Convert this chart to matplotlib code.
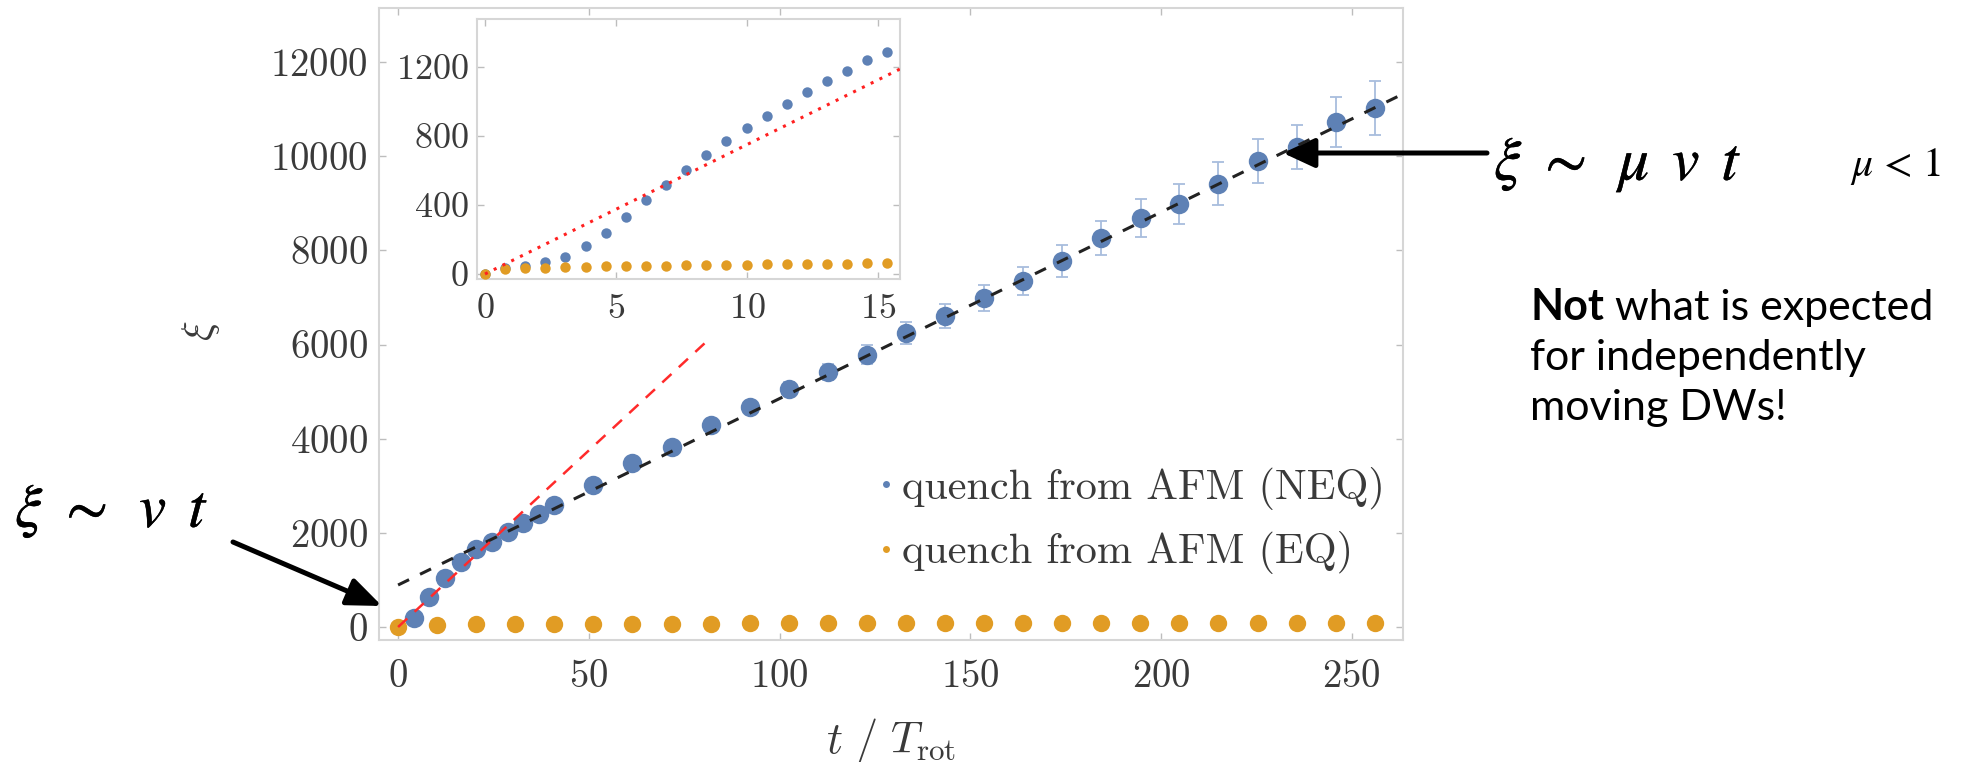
import matplotlib.pyplot as plt
import matplotlib.patheffects as pe
from matplotlib.lines import Line2D

plt.rcParams['font.family'] = 'cmr10'
plt.rcParams['mathtext.fontset'] = 'cm'
plt.rcParams['axes.formatter.use_mathtext'] = True

W, H = 1980, 762

# main panel: quench from AFM (NEQ), t in units of T_rot
t_neq = [4.1, 8.2, 12.3, 16.4, 20.5, 24.6, 28.7, 32.8, 36.9, 41.0,
         51.2, 61.4, 71.7, 81.9, 92.2, 102.4, 112.6, 122.9, 133.1, 143.4,
         153.6, 163.8, 174.1, 184.3, 194.6, 204.8, 215.0, 225.3, 235.5, 245.8, 256.0]
xi_neq = [200, 640, 1050, 1390, 1660, 1810, 2020, 2210, 2400, 2590,
          3010, 3480, 3830, 4290, 4670, 5060, 5420, 5780, 6250, 6606,
          6988, 7349, 7774, 8260, 8690, 8985, 9415, 9898, 10195, 10726, 11024]
err_neq = [20, 30, 40, 50, 50, 60, 60, 70, 70, 80,
           90, 100, 110, 120, 130, 150, 170, 200, 230, 250,
           280, 300, 330, 360, 400, 430, 460, 470, 465, 540, 570]

# main panel: quench from AFM (EQ)
t_eq = [0, 10.24, 20.48, 30.72, 40.96, 51.2, 61.44, 71.68, 81.92, 92.16, 102.4, 112.64, 122.88,
        133.12, 143.36, 153.6, 163.84, 174.08, 184.32, 194.56, 204.8, 215.04, 225.28, 235.52,
        245.76, 256.0]
xi_eq = [0, 50, 58, 62, 65, 68, 70, 72, 74, 75, 76, 77, 78,
         79, 80, 80, 81, 82, 82, 83, 83, 84, 84, 85, 85, 86]

# fits: xi ~ v t (red) and xi ~ mu v t (black)
red_fit_t = [0, 80.4]
red_fit_xi = [0, 6030]
black_fit_t = [0, 263.4]
black_fit_xi = [892, 11323]

# inset: early times
inset_t = [0, 0.768, 1.536, 2.304, 3.072, 3.84, 4.608, 5.376, 6.144, 6.912, 7.68,
           8.448, 9.216, 9.984, 10.752, 11.52, 12.288, 13.056, 13.824, 14.592, 15.36]
inset_neq = [0, 33, 46, 68, 100, 162, 239, 332, 427, 514, 604,
             689, 770, 846, 915, 986, 1056, 1118, 1176, 1239, 1288]
inset_eq = [0, 27, 33, 37, 40, 42, 44, 46, 48, 49, 51,
            52, 53, 55, 56, 57, 58, 59, 60, 61, 62]
inset_fit_t = [0, 15.84]
inset_fit_xi = [0, 1188]

blue = '#5E81B5'
orange = '#E19C24'
frame = '#d6d6d6'
tickc = '#bdbdbd'
labc = '#3a3a3a'
heavy = [pe.withStroke(linewidth=0.3, foreground='k')]


def style_axes(a, size):
    for s in a.spines.values():
        s.set_color(frame)
        s.set_linewidth(1.5)
    a.tick_params(direction='in', color=tickc, length=5, width=1,
                  top=True, right=True, labelsize=size, labelcolor=labc)


fig = plt.figure(figsize=(W / 100, H / 100), dpi=100)

ax = fig.add_axes([379 / W, 1 - 640 / H, 1024 / W, 632 / H])
ax.errorbar(t_neq, xi_neq, yerr=err_neq, fmt='none', ecolor='#a8bddd',
            elinewidth=1.3, capsize=4, capthick=1.3, zorder=1)
ax.plot(t_neq, xi_neq, 'o', color=blue, ms=14, mew=0, zorder=2)
ax.plot(t_eq, xi_eq, 'o', color=orange, ms=12.5, mew=0, zorder=3)
ax.plot(black_fit_t, black_fit_xi, color='#222222', lw=2.2, ls=(0, (4, 4)), zorder=4)
ax.plot(red_fit_t, red_fit_xi, color='#ff2a2a', lw=1.8, ls=(0, (5, 4)), zorder=5)
ax.set_xlim(-5, 263.4)
ax.set_ylim(-276, 13148)
ax.set_xticks([0, 50, 100, 150, 200, 250])
ax.set_yticks([0, 2000, 4000, 6000, 8000, 10000, 12000])
style_axes(ax, 28)
ax.tick_params(axis='x', pad=14)
ax.tick_params(axis='y', pad=8)
ax.set_xlabel(r'$t\ /\ T_{\mathrm{rot}}$', fontsize=32, color=labc)
ax.xaxis.set_label_coords(0.5, -0.12)
ax.set_ylabel(r'$\xi$', fontsize=30, color=labc)
ax.yaxis.set_label_coords(-0.153, 0.489)

handles = [Line2D([], [], ls='none', marker='o', ms=5, color=blue, mew=0),
           Line2D([], [], ls='none', marker='o', ms=5, color=orange, mew=0)]
ax.legend(handles, ['quench from AFM (NEQ)', 'quench from AFM (EQ)'],
          loc='upper left', bbox_to_anchor=(858 / W, 1 - 446 / H),
          bbox_transform=fig.transFigure, frameon=False, fontsize=30.5,
          handlelength=0.3, handletextpad=0.25, labelspacing=0.5,
          borderpad=0, labelcolor=labc)

axin = fig.add_axes([477 / W, 1 - 279 / H, 423 / W, 260 / H])
axin.plot(inset_t, inset_neq, 'o', color=blue, ms=7.5, mew=0, zorder=2)
axin.plot(inset_t, inset_eq, 'o', color=orange, ms=7.5, mew=0, zorder=3)
axin.plot(inset_fit_t, inset_fit_xi, color='#ff2020', lw=2.2, ls=(0, (1, 2.2)), zorder=4)
axin.set_xlim(-0.305, 15.84)
axin.set_ylim(-29, 1478)
axin.set_xticks([0, 5, 10, 15])
axin.set_yticks([0, 400, 800, 1200])
style_axes(axin, 26)
axin.tick_params(axis='x', pad=10)
axin.tick_params(axis='y', pad=6)

# annotations
fig.text(15, H - 527, r'$\xi\ \sim\ \,v\ \,t$', transform=None, fontsize=44,
         math_fontfamily='stix', ha='left', va='baseline', path_effects=heavy)
ax.annotate('', xy=(382, H - 606), xytext=(233, H - 542), xycoords='figure pixels',
            textcoords='figure pixels',
            arrowprops=dict(arrowstyle='-|>,head_length=2.1,head_width=0.85', color='k',
                            lw=3.6, mutation_scale=10, shrinkA=0, shrinkB=0))

fig.text(1494, H - 180, r'$\xi\ \sim\ \,\mu\ \,v\ \,t$', transform=None, fontsize=44,
         math_fontfamily='stix', ha='left', va='baseline', path_effects=heavy)
fig.text(1850, H - 176, r'$\mu$ < 1', transform=None, fontsize=30, family='STIXGeneral',
         math_fontfamily='stix', ha='left', va='baseline')
ax.annotate('', xy=(1283, H - 153), xytext=(1487, H - 153), xycoords='figure pixels',
            textcoords='figure pixels',
            arrowprops=dict(arrowstyle='-|>,head_length=1.94,head_width=0.9', color='k',
                            lw=3.6, mutation_scale=10, shrinkA=0, shrinkB=0))

t_not = fig.text(1530, H - 320, 'Not', transform=None, fontsize=31, family='Lato',
                 weight='bold', ha='left', va='baseline')
ax.annotate(' what is expected', xy=(1, 0), xycoords=t_not, fontsize=31, family='Lato',
            ha='left', va='bottom', annotation_clip=False)
fig.text(1530, H - 370, 'for independently', transform=None, fontsize=31, family='Lato',
         ha='left', va='baseline')
fig.text(1530, H - 420, 'moving DWs!', transform=None, fontsize=31, family='Lato',
         ha='left', va='baseline')

fig.savefig('out.png', dpi=100)
